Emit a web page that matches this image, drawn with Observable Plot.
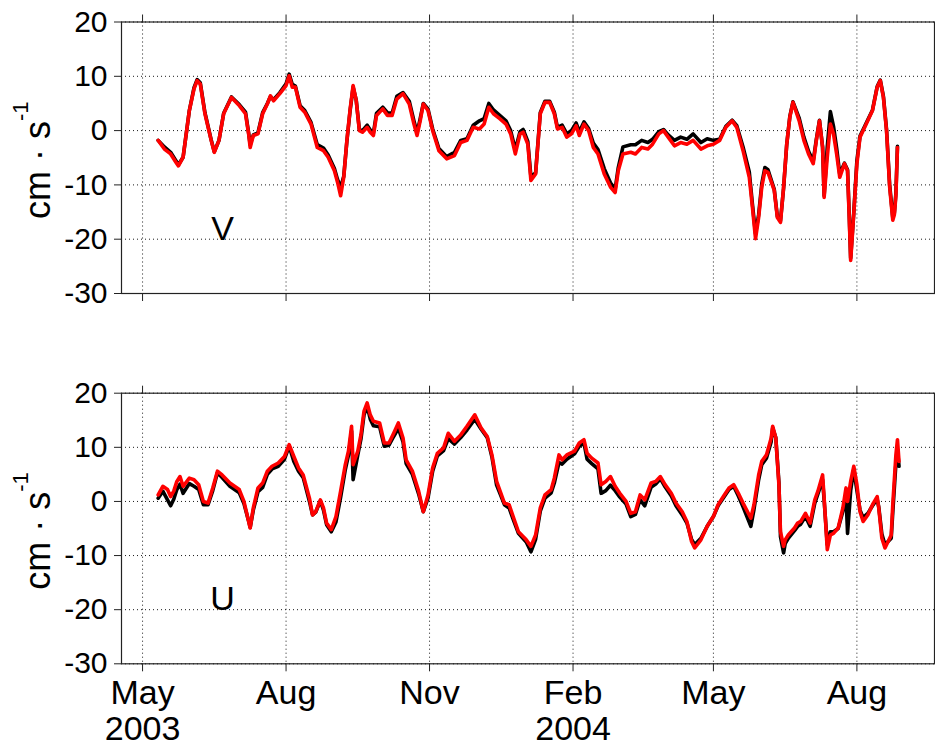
<!DOCTYPE html>
<html>
<head>
<meta charset="utf-8">
<script src="https://cdn.jsdelivr.net/npm/d3@7"></script>
<script src="https://cdn.jsdelivr.net/npm/@observablehq/plot@0.6"></script>
<style>
  html, body { margin: 0; padding: 0; background: #fff; }
  #chart { position: relative; width: 935px; height: 747px; overflow: hidden; background: #fff; }
  #chart svg { position: absolute; left: 0; overflow: visible; }
</style>
</head>
<body>
<div id="chart"></div>
<script>
// Daily-smoothed current components (cm/s), two records per component (black, red).

// ---- V component ----
const vDates = [
  "2003-05-11","2003-05-15","2003-05-19","2003-05-23","2003-05-24","2003-05-27","2003-05-31",
  "2003-06-03","2003-06-05","2003-06-07","2003-06-10","2003-06-14","2003-06-16","2003-06-19","2003-06-22","2003-06-27",
  "2003-07-02","2003-07-06","2003-07-08","2003-07-09","2003-07-11","2003-07-14","2003-07-17","2003-07-20","2003-07-22","2003-07-24","2003-07-28",
  "2003-08-01","2003-08-03","2003-08-05","2003-08-07","2003-08-10","2003-08-13","2003-08-17","2003-08-21","2003-08-25","2003-08-28",
  "2003-09-01","2003-09-03","2003-09-05","2003-09-07","2003-09-09","2003-09-11","2003-09-13","2003-09-15","2003-09-17","2003-09-19","2003-09-22","2003-09-24","2003-09-26","2003-09-28",
  "2003-10-02","2003-10-05","2003-10-08","2003-10-11","2003-10-15","2003-10-19","2003-10-22","2003-10-24","2003-10-26","2003-10-28","2003-10-31",
  "2003-11-03","2003-11-07","2003-11-12","2003-11-17","2003-11-21","2003-11-25","2003-11-29",
  "2003-12-03","2003-12-06","2003-12-09","2003-12-12","2003-12-16","2003-12-20","2003-12-23","2003-12-26","2003-12-29","2003-12-31",
  "2004-01-03","2004-01-05","2004-01-08","2004-01-11","2004-01-14","2004-01-17","2004-01-20","2004-01-22","2004-01-25","2004-01-28","2004-01-31",
  "2004-02-03","2004-02-05","2004-02-08","2004-02-11","2004-02-14","2004-02-17","2004-02-21","2004-02-25","2004-02-28",
  "2004-03-01","2004-03-04","2004-03-09","2004-03-12","2004-03-16","2004-03-20","2004-03-23","2004-03-27","2004-03-30",
  "2004-04-02","2004-04-06","2004-04-10","2004-04-14","2004-04-18","2004-04-23","2004-04-27",
  "2004-05-01","2004-05-05","2004-05-09","2004-05-13","2004-05-16","2004-05-20","2004-05-24","2004-05-26","2004-05-28","2004-05-30",
  "2004-06-01","2004-06-03","2004-06-05","2004-06-09","2004-06-11","2004-06-13","2004-06-15","2004-06-17","2004-06-19","2004-06-21","2004-06-25","2004-06-28",
  "2004-07-01","2004-07-04","2004-07-06","2004-07-08","2004-07-10","2004-07-11","2004-07-13","2004-07-15","2004-07-17","2004-07-19","2004-07-21","2004-07-24","2004-07-26","2004-07-27","2004-07-28","2004-07-30",
  "2004-08-01","2004-08-03","2004-08-06","2004-08-11","2004-08-14","2004-08-16","2004-08-18","2004-08-20","2004-08-22","2004-08-24","2004-08-25","2004-08-26","2004-08-27"
];
const vRed = [
  -1.8,-3.4,-4.3,-6.1,-6.5,-4.9,3.7,
  7.7,9.2,8.6,3.1,-1.8,-4.0,-1.8,3.1,6.1,
  4.6,3.1,-0.6,-3.1,-0.9,-0.6,3.1,4.9,6.4,5.5,6.8,
  8.3,10.1,8.0,8.0,4.3,3.4,1.2,-3.1,-3.7,-4.9,
  -7.4,-9.5,-12.0,-8.6,-1.8,3.7,8.3,5.5,0,-0.3,0.6,-0.3,-0.9,2.8,
  4.0,2.8,2.8,5.8,6.8,4.9,1.2,-0.9,1.8,4.9,3.7,
  0,-3.7,-5.2,-4.6,-2.2,-1.8,0.6,
  0.3,1.2,4.3,3.1,2.2,1.2,-0.6,-4.3,-0.6,-0.3,
  -2.5,-9.2,-8.0,3.1,5.2,5.2,3.1,0.3,0.6,-1.2,-0.6,
  0.9,-0.9,1.2,0,-3.1,-4.3,-8.0,-10.4,-11.4,
  -7.4,-4.3,-4.0,-4.3,-3.1,-3.4,-2.5,-0.6,0,
  -1.2,-2.8,-2.2,-2.5,-1.8,-3.4,-2.8,
  -2.5,-1.8,0.6,1.8,0.6,-3.7,-8.6,-14.1,-19.9,-16.0,
  -10.4,-7.4,-7.7,-11.0,-16.0,-16.9,-10.4,-2.5,2.5,5.2,1.8,-1.8,
  -4.3,-6.1,-1.8,1.8,-3.1,-12.3,-4.9,1.2,-0.6,-4.3,-8.6,-6.1,-7.4,-15.3,-23.9,-15.3,
  -6.1,-1.2,0.6,3.7,8.0,9.2,6.1,0,-10.4,-16.5,-15.5,-12.0,-3.1
];
const vBlack = [
  -1.8,-3.0,-4.0,-5.8,-6.3,-4.9,3.7,
  7.9,9.4,8.8,3.3,-1.7,-3.9,-1.8,3.2,6.2,
  4.8,3.4,-0.4,-2.6,-0.8,-0.4,3.3,5.0,6.3,5.7,7.0,
  8.6,10.4,8.5,8.2,4.6,3.7,1.5,-2.6,-3.2,-4.5,
  -7.0,-9.0,-10.5,-8.4,-2.0,3.5,8.0,5.6,0.2,0,1.0,0.1,-0.5,3.2,
  4.3,3.3,3.2,6.3,7.0,5.4,1.8,-0.4,2.2,5.0,4.0,
  0.3,-3.3,-4.8,-4.0,-1.8,-1.5,1.0,
  1.8,2.2,5.0,3.8,2.8,1.8,0,-3.5,-0.2,0.2,
  -2.0,-8.5,-7.8,3.3,5.4,5.4,3.4,0.6,1.0,-0.6,0,
  1.4,-0.2,1.6,0.4,-2.3,-3.5,-7.0,-9.6,-10.8,
  -6.8,-3.0,-2.6,-2.6,-1.8,-2.2,-1.6,-0.2,0.2,
  -0.8,-1.8,-1.2,-1.6,-0.6,-2.2,-1.5,
  -1.8,-1.6,0.8,1.9,0.9,-3.0,-7.6,-13.5,-19.0,-15.5,
  -9.8,-6.8,-7.2,-10.8,-15.8,-16.6,-10.6,-2.6,2.6,5.3,2.3,-1.2,
  -3.8,-5.6,-1.6,1.9,-3.0,-12.0,-3.0,3.5,0.8,-3.2,-8.0,-6.0,-7.2,-14.8,-23.5,-15.0,
  -5.5,-1.0,0.8,3.8,8.1,9.3,6.3,0.2,-10.0,-16.0,-15.2,-11.5,-2.9
];

// ---- U component ----
const uDates = [
  "2003-05-11","2003-05-14","2003-05-17","2003-05-19","2003-05-21","2003-05-23","2003-05-25","2003-05-27","2003-05-31",
  "2003-06-03","2003-06-06","2003-06-09","2003-06-12","2003-06-15","2003-06-18","2003-06-21","2003-06-26",
  "2003-07-02","2003-07-05","2003-07-08","2003-07-09","2003-07-11","2003-07-14","2003-07-17","2003-07-20","2003-07-23","2003-07-27","2003-07-31",
  "2003-08-03","2003-08-06","2003-08-09","2003-08-12","2003-08-16","2003-08-18","2003-08-20","2003-08-23","2003-08-25","2003-08-27","2003-08-30",
  "2003-09-02","2003-09-05","2003-09-08","2003-09-10","2003-09-12","2003-09-13","2003-09-16","2003-09-18","2003-09-20","2003-09-22","2003-09-24","2003-09-26","2003-09-30",
  "2003-10-03","2003-10-06","2003-10-09","2003-10-12","2003-10-15","2003-10-17","2003-10-21","2003-10-25","2003-10-28","2003-10-31",
  "2003-11-03","2003-11-06","2003-11-10","2003-11-13","2003-11-17","2003-11-21","2003-11-25","2003-11-30",
  "2003-12-04","2003-12-08","2003-12-11","2003-12-14","2003-12-19","2003-12-22","2003-12-25","2003-12-28",
  "2004-01-02","2004-01-05","2004-01-08","2004-01-11","2004-01-14","2004-01-18","2004-01-20","2004-01-23","2004-01-25","2004-01-28",
  "2004-02-02","2004-02-05","2004-02-08","2004-02-10","2004-02-13","2004-02-17","2004-02-19","2004-02-22","2004-02-25","2004-02-28",
  "2004-03-02","2004-03-06","2004-03-09","2004-03-12","2004-03-15","2004-03-18","2004-03-22","2004-03-25","2004-03-28","2004-03-31",
  "2004-04-04","2004-04-07","2004-04-11","2004-04-14","2004-04-17","2004-04-19","2004-04-23","2004-04-27",
  "2004-05-01","2004-05-04","2004-05-08","2004-05-11","2004-05-14","2004-05-17","2004-05-20","2004-05-25","2004-05-27","2004-05-30",
  "2004-06-01","2004-06-04","2004-06-07","2004-06-08","2004-06-10","2004-06-12","2004-06-13","2004-06-15","2004-06-16","2004-06-18","2004-06-22","2004-06-24","2004-06-26","2004-06-29",
  "2004-07-02","2004-07-05","2004-07-07","2004-07-10","2004-07-11","2004-07-13","2004-07-15","2004-07-17","2004-07-20","2004-07-23","2004-07-25","2004-07-26","2004-07-28","2004-07-30",
  "2004-08-01","2004-08-03","2004-08-05","2004-08-08","2004-08-11","2004-08-14","2004-08-15","2004-08-17","2004-08-19","2004-08-23","2004-08-24","2004-08-26","2004-08-27","2004-08-28"
];
const uRed = [
  1.2,2.8,2.2,0.9,1.9,3.7,4.6,2.8,4.3,
  4.0,3.1,0,-0.3,2.5,5.6,4.9,3.4,
  2.2,0,-3.7,-4.9,-1.2,2.5,3.4,5.6,6.5,7.1,8.3,
  10.5,8.3,6.2,4.9,0.6,-2.5,-1.9,0.3,-1.2,-4.0,-5.2,
  -2.8,1.9,6.8,9.3,13.9,6.8,9.3,12.3,16.7,18.2,16.0,14.8,14.5,
  10.8,10.8,12.6,14.5,11.7,7.7,5.6,1.9,-1.9,1.2,
  6.2,8.9,9.9,12.6,11.1,12.3,13.9,16.0,
  13.6,12.0,8.6,3.7,-0.3,-0.6,-3.1,-5.6,
  -7.1,-8.3,-6.2,-1.2,1.2,2.2,4.3,8.6,7.7,8.6,
  9.3,10.8,11.4,8.9,8.0,7.1,3.1,3.7,4.6,2.8,
  1.5,0,-2.2,-1.9,1.2,0.3,3.4,3.7,4.6,3.1,
  1.5,-0.3,-1.9,-3.7,-7.4,-8.6,-7.1,-4.6,
  -2.8,-0.6,1.2,2.5,3.1,1.5,-0.3,-3.1,-0.6,4.9,
  7.4,8.6,11.7,13.9,11.7,3.1,-5.6,-8.3,-7.1,-6.2,-4.9,-4.0,-3.7,-2.2,
  -4.0,0.3,1.9,4.9,0.6,-8.9,-6.2,-5.9,-4.9,-1.2,2.5,0,3.7,6.5,
  3.1,-1.9,-3.7,-2.5,-0.6,0.9,-1.2,-6.8,-8.6,-6.2,-0.6,8.6,11.4,7.4
];
const uBlack = [
  0.6,1.9,0.3,-0.8,0.4,2.2,3.2,1.5,3.3,
  2.8,2.2,-0.6,-0.6,2.0,5.3,4.4,2.8,
  1.6,-0.4,-3.6,-4.8,-1.6,1.8,2.6,5.0,6.0,6.5,7.8,
  10.2,7.4,5.6,4.4,0,-2.5,-2.0,0.1,-1.6,-4.3,-5.6,
  -3.8,0.8,5.9,8.5,13.0,4.0,8.6,11.5,16.0,17.6,15.2,14.0,13.8,
  10.2,10.4,12.0,13.5,11.0,7.0,5.0,1.4,-1.9,0.6,
  5.6,8.4,9.4,11.6,10.6,11.8,13.2,15.2,
  13.4,11.8,8.2,3.0,-0.6,-1.2,-3.6,-5.9,
  -7.5,-9.3,-7.0,-1.8,0.6,1.6,3.4,7.2,6.9,7.8,
  8.8,10.2,10.8,7.8,7.0,6.0,1.5,2.0,3.0,2.0,
  0.8,-0.5,-2.8,-2.4,0.3,-0.8,2.6,3.2,4.2,2.7,
  1.0,-0.8,-2.5,-4.0,-7.0,-8.0,-6.8,-4.6,
  -2.8,-0.8,0.9,2.2,2.8,1.0,-1.0,-4.6,-1.5,4.0,
  6.8,8.0,11.0,13.6,11.8,3.5,-6.5,-9.5,-7.8,-6.8,-5.4,-4.6,-4.2,-2.8,
  -4.6,-0.3,1.4,4.0,0.2,-8.0,-5.6,-5.6,-5.0,-1.8,1.0,-5.9,2.0,6.0,
  2.0,-1.6,-3.0,-2.2,-0.8,0.4,-1.0,-6.0,-8.0,-6.8,-2.0,7.0,9.5,6.5
];

// ---- axes ----
const xTickDates = ["2003-05-01","2003-08-01","2003-11-01","2004-02-01","2004-05-01","2004-08-01"];
const xTickLabels = ["May\n2003","Aug","Nov","Feb\n2004","May","Aug"];
const yTicks = [-30, -20, -10, 0, 10, 20];
const xStart = "2003-04-17T12:00Z";
const xEnd = "2004-09-19T18:00Z";
const unitMain = "cm \u00b7 s";
const unitSup = "-1";

const FONT = '"Liberation Sans", Arial, Helvetica, sans-serif';
const tickDates = xTickDates.map(d => new Date(d));
const labelByTime = new Map(tickDates.map((d, i) => [+d, xTickLabels[i]]));
const xDomain = [new Date(xStart), new Date(xEnd)];

function rowsOf(dates, red, black) {
  return dates.map((d, i) => ({date: new Date(d), red: red[i], black: black[i]}));
}

function panel({rows, letter, top, height, marginTop, marginBottom, showLabels}) {
  const svg = Plot.plot({
    width: 935,
    height,
    marginLeft: 121,
    marginRight: 1,
    marginTop,
    marginBottom,
    style: {fontFamily: FONT, background: "transparent", color: "#000", overflow: "visible"},
    x: {type: "utc", domain: xDomain},
    y: {domain: [-30, 20]},
    marks: [
      Plot.gridX(tickDates, {stroke: "#000", strokeOpacity: 0.9, strokeWidth: 1, strokeDasharray: "1,3"}),
      Plot.gridY(yTicks, {stroke: "#000", strokeOpacity: 0.9, strokeWidth: 1, strokeDasharray: "1,3"}),
      Plot.line(rows, {x: "date", y: "black", stroke: "#000", strokeWidth: 3.6, strokeLinejoin: "round"}),
      Plot.line(rows, {x: "date", y: "red", stroke: "#ff0000", strokeWidth: 3.6, strokeLinejoin: "round"}),
      Plot.frame({stroke: "#222", strokeWidth: 1.2}),
      Plot.axisY(yTicks, {anchor: "left", tickSize: 7, tickPadding: 7, tickFormat: d => String(d),
        fontSize: 30, label: null, stroke: "#222"}),
      Plot.axisX(tickDates, {anchor: "top", tickSize: 8, tickFormat: () => "", label: null, stroke: "#222"}),
      Plot.axisX(tickDates, {anchor: "bottom", tickSize: 8, tickPadding: 7,
        tickFormat: showLabels ? (d => labelByTime.get(+d)) : (() => ""),
        fontSize: 34, lineHeight: 1.05, label: null, stroke: "#222"}),
      Plot.text([letter], {frameAnchor: "bottom-left", dx: 101, dy: -54, textAnchor: "middle",
        lineAnchor: "bottom", fontSize: 34, fill: "#000"})
    ]
  });
  svg.style.top = top + "px";

  // rotated unit label with superscript
  const cy = marginTop + (height - marginTop - marginBottom) / 2 + 3;
  const t = d3.select(svg).append("text")
    .attr("transform", `translate(50,${cy}) rotate(-90)`)
    .attr("text-anchor", "middle")
    .attr("font-family", FONT)
    .attr("font-size", 36)
    .attr("fill", "#000");
  t.append("tspan").text(unitMain);
  t.append("tspan").attr("dy", -22).attr("font-size", 22).text(unitSup);
  return svg;
}

const chart = document.getElementById("chart");
chart.appendChild(panel({
  rows: rowsOf(vDates, vRed, vBlack), letter: "V",
  top: 0, height: 340, marginTop: 21.5, marginBottom: 47, showLabels: false
}));
chart.appendChild(panel({
  rows: rowsOf(uDates, uRed, uBlack), letter: "U",
  top: 370, height: 377, marginTop: 22.7, marginBottom: 83.7, showLabels: true
}));
</script>
</body>
</html>
